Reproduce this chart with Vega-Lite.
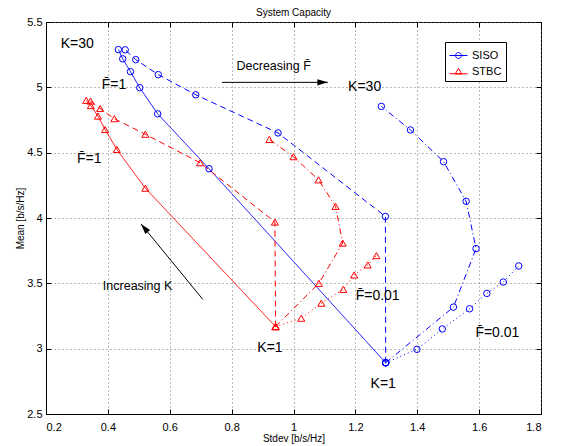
{
  "$schema": "https://vega.github.io/schema/vega-lite/v6.json",
  "width": 495,
  "height": 392,
  "autosize": {"type": "none"},
  "padding": {"left": 46, "top": 22, "right": 24, "bottom": 32},
  "background": "white",
  "title": {"text": "System Capacity", "fontSize": 10, "font": "Liberation Sans", "fontWeight": "normal", "offset": -2, "anchor": "middle", "color": "black"},
  "config": {
    "font": "Liberation Sans",
    "view": {"stroke": "black", "strokeWidth": 1},
    "axis": {"labelFont": "Liberation Sans", "titleFont": "Liberation Sans", "labelColor": "black", "titleColor": "black"}
  },
  "datasets": {
    "curves": [
      {"sys": "SISO", "fb": "1", "k": 1, "x": 1.298, "y": 2.892},
      {"sys": "SISO", "fb": "1", "k": 2, "x": 0.727, "y": 4.377},
      {"sys": "SISO", "fb": "1", "k": 3, "x": 0.561, "y": 4.797},
      {"sys": "SISO", "fb": "1", "k": 4, "x": 0.503, "y": 4.997},
      {"sys": "SISO", "fb": "1", "k": 5, "x": 0.473, "y": 5.120},
      {"sys": "SISO", "fb": "1", "k": 6, "x": 0.448, "y": 5.218},
      {"sys": "SISO", "fb": "1", "k": 7, "x": 0.434, "y": 5.289},
      {"sys": "SISO", "fb": "0.5", "k": 1, "x": 1.298, "y": 2.892},
      {"sys": "SISO", "fb": "0.5", "k": 2, "x": 1.297, "y": 4.012},
      {"sys": "SISO", "fb": "0.5", "k": 3, "x": 0.950, "y": 4.651},
      {"sys": "SISO", "fb": "0.5", "k": 4, "x": 0.684, "y": 4.943},
      {"sys": "SISO", "fb": "0.5", "k": 5, "x": 0.563, "y": 5.097},
      {"sys": "SISO", "fb": "0.5", "k": 6, "x": 0.490, "y": 5.212},
      {"sys": "SISO", "fb": "0.5", "k": 7, "x": 0.456, "y": 5.287},
      {"sys": "SISO", "fb": "0.1", "k": 1, "x": 1.298, "y": 2.892},
      {"sys": "SISO", "fb": "0.1", "k": 2, "x": 1.517, "y": 3.318},
      {"sys": "SISO", "fb": "0.1", "k": 3, "x": 1.590, "y": 3.766},
      {"sys": "SISO", "fb": "0.1", "k": 4, "x": 1.558, "y": 4.128},
      {"sys": "SISO", "fb": "0.1", "k": 5, "x": 1.485, "y": 4.431},
      {"sys": "SISO", "fb": "0.1", "k": 6, "x": 1.378, "y": 4.674},
      {"sys": "SISO", "fb": "0.1", "k": 7, "x": 1.284, "y": 4.854},
      {"sys": "SISO", "fb": "0.01", "k": 1, "x": 1.298, "y": 2.892},
      {"sys": "SISO", "fb": "0.01", "k": 2, "x": 1.399, "y": 2.995},
      {"sys": "SISO", "fb": "0.01", "k": 3, "x": 1.481, "y": 3.151},
      {"sys": "SISO", "fb": "0.01", "k": 4, "x": 1.569, "y": 3.305},
      {"sys": "SISO", "fb": "0.01", "k": 5, "x": 1.625, "y": 3.423},
      {"sys": "SISO", "fb": "0.01", "k": 6, "x": 1.678, "y": 3.510},
      {"sys": "SISO", "fb": "0.01", "k": 7, "x": 1.728, "y": 3.633},
      {"sys": "STBC", "fb": "1", "k": 1, "x": 0.942, "y": 3.169},
      {"sys": "STBC", "fb": "1", "k": 2, "x": 0.521, "y": 4.228},
      {"sys": "STBC", "fb": "1", "k": 3, "x": 0.429, "y": 4.525},
      {"sys": "STBC", "fb": "1", "k": 4, "x": 0.391, "y": 4.677},
      {"sys": "STBC", "fb": "1", "k": 5, "x": 0.368, "y": 4.780},
      {"sys": "STBC", "fb": "1", "k": 6, "x": 0.345, "y": 4.860},
      {"sys": "STBC", "fb": "1", "k": 7, "x": 0.330, "y": 4.900},
      {"sys": "STBC", "fb": "0.5", "k": 1, "x": 0.942, "y": 3.169},
      {"sys": "STBC", "fb": "0.5", "k": 2, "x": 0.940, "y": 3.969},
      {"sys": "STBC", "fb": "0.5", "k": 3, "x": 0.698, "y": 4.423},
      {"sys": "STBC", "fb": "0.5", "k": 4, "x": 0.521, "y": 4.641},
      {"sys": "STBC", "fb": "0.5", "k": 5, "x": 0.421, "y": 4.760},
      {"sys": "STBC", "fb": "0.5", "k": 6, "x": 0.375, "y": 4.838},
      {"sys": "STBC", "fb": "0.5", "k": 7, "x": 0.344, "y": 4.895},
      {"sys": "STBC", "fb": "0.1", "k": 1, "x": 0.942, "y": 3.169},
      {"sys": "STBC", "fb": "0.1", "k": 2, "x": 1.082, "y": 3.500},
      {"sys": "STBC", "fb": "0.1", "k": 3, "x": 1.159, "y": 3.808},
      {"sys": "STBC", "fb": "0.1", "k": 4, "x": 1.136, "y": 4.089},
      {"sys": "STBC", "fb": "0.1", "k": 5, "x": 1.081, "y": 4.292},
      {"sys": "STBC", "fb": "0.1", "k": 6, "x": 1.000, "y": 4.469},
      {"sys": "STBC", "fb": "0.1", "k": 7, "x": 0.922, "y": 4.601},
      {"sys": "STBC", "fb": "0.01", "k": 1, "x": 0.942, "y": 3.169},
      {"sys": "STBC", "fb": "0.01", "k": 2, "x": 1.025, "y": 3.233},
      {"sys": "STBC", "fb": "0.01", "k": 3, "x": 1.090, "y": 3.348},
      {"sys": "STBC", "fb": "0.01", "k": 4, "x": 1.161, "y": 3.454},
      {"sys": "STBC", "fb": "0.01", "k": 5, "x": 1.196, "y": 3.564},
      {"sys": "STBC", "fb": "0.01", "k": 6, "x": 1.240, "y": 3.641},
      {"sys": "STBC", "fb": "0.01", "k": 7, "x": 1.268, "y": 3.712}
    ],
    "biglabels": [
      {"text": "K=30", "x": 0.301, "y": 5.333},
      {"text": "F\u0304=1", "x": 0.42, "y": 5.018},
      {"text": "F\u0304=1", "x": 0.340, "y": 4.448},
      {"text": "K=30", "x": 1.230, "y": 5.002},
      {"text": "K=1", "x": 0.924, "y": 3.003},
      {"text": "F\u0304=0.01", "x": 1.272, "y": 3.402},
      {"text": "K=1", "x": 1.290, "y": 2.733},
      {"text": "F\u0304=0.01", "x": 1.659, "y": 3.119}
    ],
    "phrases": [
      {"text": "Decreasing F\u0304", "x": 0.936, "y": 5.162},
      {"text": "Increasing K", "x": 0.496, "y": 3.479}
    ],
    "arrows": [
      {"x": 0.769, "y": 5.038, "x2": 1.111, "y2": 5.038},
      {"x": 0.707, "y": 3.377, "x2": 0.507, "y2": 3.955}
    ]
  },
  "resolve": {"axis": {"x": "independent", "y": "independent"}},
  "layer": [
    {
      "layer": [
        {
          "data": {"name": "curves"},
          "mark": {"type": "point", "filled": false, "opacity": 0, "size": 324, "strokeWidth": 1},
          "encoding": {
            "x": {"field": "x", "type": "quantitative", "scale": {"domain": [0.2, 1.8], "nice": false, "zero": false},
              "axis": {"values": [0.2, 0.4, 0.6, 0.8, 1, 1.2, 1.4, 1.6, 1.8], "format": "~g", "grid": true, "gridDash": [1, 3], "gridColor": "#777777", "gridWidth": 1, "tickSize": -5, "tickColor": "black", "domainColor": "black", "labelPadding": 12, "labelFontSize": 11, "title": "Stdev [b/s/Hz]", "titleFontSize": 10, "titleFontWeight": "normal", "titlePadding": 1}},
            "y": {"field": "y", "type": "quantitative", "scale": {"domain": [2.5, 5.5], "nice": false, "zero": false},
              "axis": {"values": [2.5, 3, 3.5, 4, 4.5, 5, 5.5], "format": "~g", "grid": true, "gridDash": [1, 3], "gridColor": "#777777", "gridWidth": 1, "tickSize": -5, "tickColor": "black", "domainColor": "black", "labelPadding": 9, "labelFontSize": 11, "title": "Mean [b/s/Hz]", "titleFontSize": 10, "titleFontWeight": "normal", "titlePadding": 1}},
            "color": {"field": "sys", "type": "nominal", "scale": {"domain": ["SISO", "STBC"], "range": ["#0000ff", "#ff0000"]},
              "legend": {"title": null, "orient": "none", "legendX": 399, "legendY": 20, "strokeColor": "black", "fillColor": "white", "padding": 4, "labelFontSize": 11, "labelFont": "Liberation Sans", "labelColor": "black", "symbolSize": 324, "symbolStrokeWidth": 1, "symbolOpacity": 1, "rowPadding": 1, "labelOffset": 4}},
            "shape": {"field": "sys", "type": "nominal",
              "scale": {"domain": ["SISO", "STBC"], "range": ["M-1,0L1,0M-0.33,0A0.33,0.33,0,1,1,0.33,0A0.33,0.33,0,1,1,-0.33,0", "M-1,0.25L1,0.25M0,-0.35L0.36,0.28L-0.36,0.28Z"]},
              "legend": {"title": null, "orient": "none", "legendX": 399, "legendY": 20, "strokeColor": "black", "fillColor": "white", "padding": 4, "labelFontSize": 11, "labelFont": "Liberation Sans", "labelColor": "black", "symbolSize": 324, "symbolStrokeWidth": 1, "symbolOpacity": 1, "rowPadding": 1, "labelOffset": 4}}
          }
        },
        {
          "data": {"name": "curves"},
          "mark": {"type": "line", "strokeWidth": 1},
          "encoding": {
            "x": {"field": "x", "type": "quantitative"},
            "y": {"field": "y", "type": "quantitative"},
            "color": {"field": "sys", "type": "nominal", "legend": null},
            "strokeDash": {"field": "fb", "type": "nominal", "scale": {"domain": ["1", "0.5", "0.1", "0.01"], "range": [[1, 0], [6, 4], [6, 3, 1, 3], [1, 3]]}, "legend": null},
            "order": {"field": "k", "type": "quantitative"}
          }
        },
        {
          "data": {"name": "curves"},
          "transform": [{"filter": "datum.sys === 'SISO'"}],
          "mark": {"type": "point", "shape": "circle", "filled": false, "size": 42, "strokeWidth": 1, "opacity": 1},
          "encoding": {
            "x": {"field": "x", "type": "quantitative"},
            "y": {"field": "y", "type": "quantitative"},
            "color": {"field": "sys", "type": "nominal", "legend": null}
          }
        },
        {
          "data": {"name": "curves"},
          "transform": [{"filter": "datum.sys === 'STBC'"}],
          "mark": {"type": "point", "shape": "triangle-up", "filled": false, "size": 50, "strokeWidth": 1, "opacity": 1},
          "encoding": {
            "x": {"field": "x", "type": "quantitative"},
            "y": {"field": "y", "type": "quantitative"},
            "color": {"field": "sys", "type": "nominal", "legend": null}
          }
        },
        {
          "data": {"name": "arrows"},
          "mark": {"type": "rule", "color": "black", "strokeWidth": 1},
          "encoding": {
            "x": {"field": "x", "type": "quantitative"},
            "y": {"field": "y", "type": "quantitative"},
            "x2": {"field": "x2"},
            "y2": {"field": "y2"}
          }
        },
        {
          "data": {"values": [{"x": 1.111, "y": 5.038}]},
          "mark": {"type": "point", "shape": "M0,0L0.3,1L-0.3,1Z", "filled": true, "color": "black", "opacity": 1, "size": 440, "angle": 90, "strokeWidth": 0},
          "encoding": {
            "x": {"field": "x", "type": "quantitative"},
            "y": {"field": "y", "type": "quantitative"}
          }
        },
        {
          "data": {"values": [{"x": 0.507, "y": 3.955}]},
          "mark": {"type": "point", "shape": "M0,0L0.3,1L-0.3,1Z", "filled": true, "color": "black", "opacity": 1, "size": 440, "angle": 320, "strokeWidth": 0},
          "encoding": {
            "x": {"field": "x", "type": "quantitative"},
            "y": {"field": "y", "type": "quantitative"}
          }
        },
        {
          "data": {"name": "biglabels"},
          "mark": {"type": "text", "fontSize": 14, "font": "Liberation Sans", "color": "black", "align": "center", "baseline": "middle"},
          "encoding": {
            "x": {"field": "x", "type": "quantitative"},
            "y": {"field": "y", "type": "quantitative"},
            "text": {"field": "text"}
          }
        },
        {
          "data": {"name": "phrases"},
          "mark": {"type": "text", "fontSize": 12.5, "font": "Liberation Sans", "color": "black", "align": "center", "baseline": "middle"},
          "encoding": {
            "x": {"field": "x", "type": "quantitative"},
            "y": {"field": "y", "type": "quantitative"},
            "text": {"field": "text"}
          }
        }
      ]
    },
    {
      "data": {"name": "arrows"},
      "mark": {"type": "point", "opacity": 0},
      "encoding": {
        "x": {"field": "x", "type": "quantitative", "axis": {"orient": "top", "values": [0.2, 0.4, 0.6, 0.8, 1, 1.2, 1.4, 1.6, 1.8], "labels": false, "grid": false, "domain": false, "ticks": true, "tickSize": -5, "tickWidth": 1, "tickColor": "black", "title": null}},
        "y": {"field": "y", "type": "quantitative", "axis": {"orient": "right", "values": [2.5, 3, 3.5, 4, 4.5, 5, 5.5], "labels": false, "grid": false, "domain": false, "ticks": true, "tickSize": -5, "tickWidth": 1, "tickColor": "black", "title": null}}
      }
    }
  ]
}
